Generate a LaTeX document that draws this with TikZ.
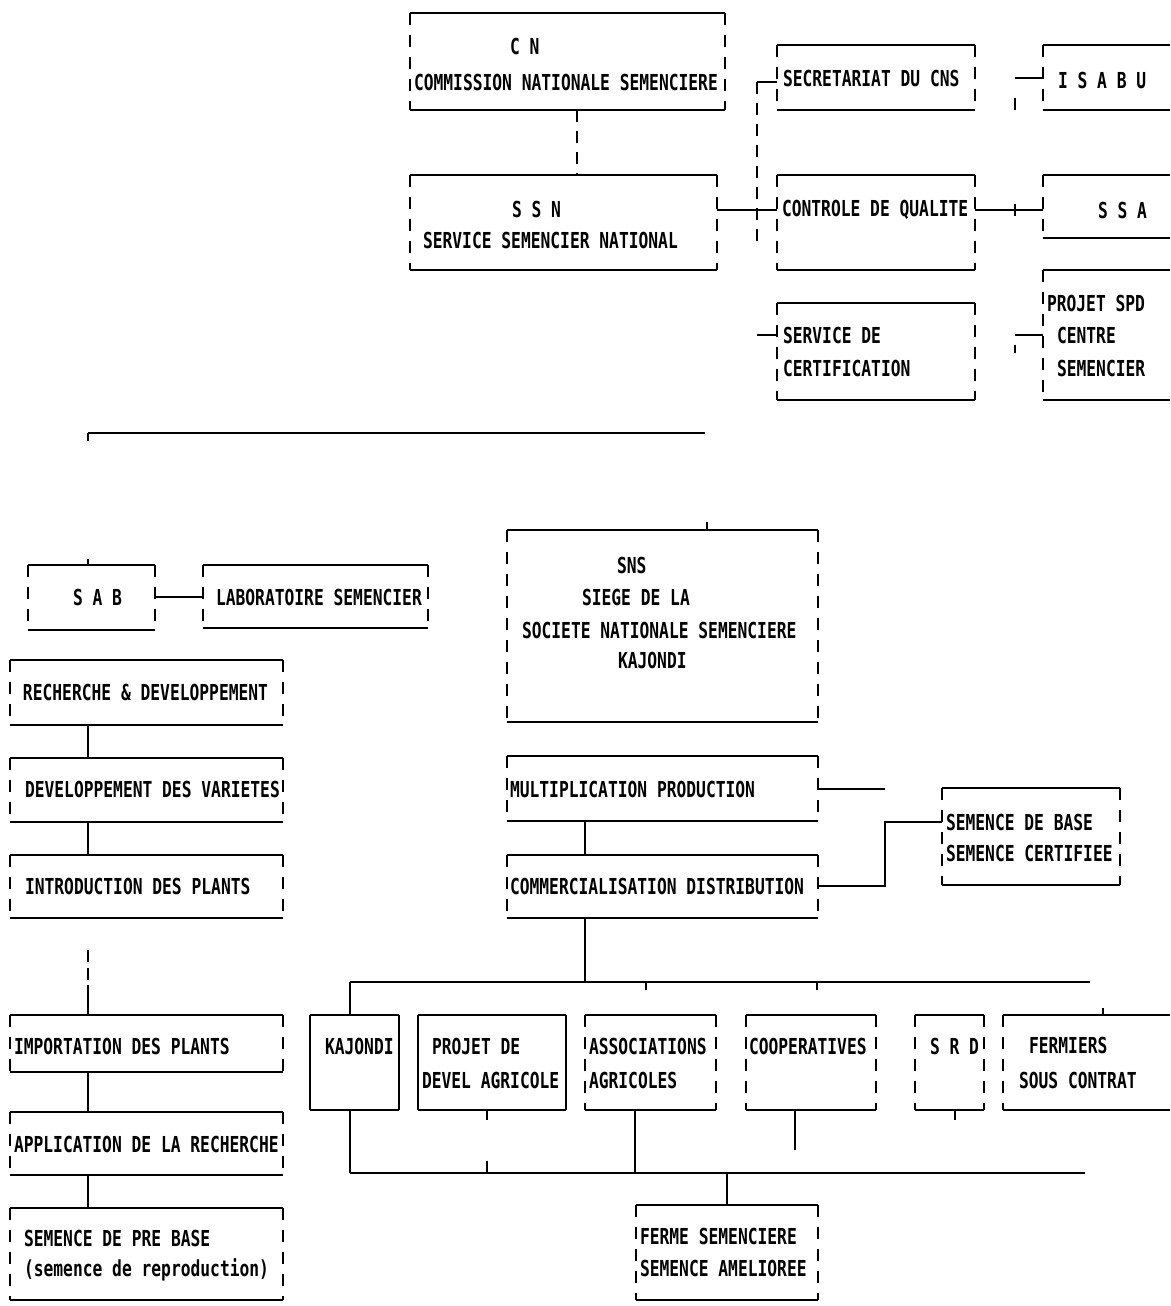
\documentclass[tikz,border=0pt]{standalone}
\usepackage{fontspec}
\newfontfamily\dm[FakeStretch=0.74]{DejaVu Sans Mono}
\tikzset{
  boxn/.style={rectangle,inner sep=0pt,outer sep=0pt,draw=none},
  hl/.style={line width=1.8pt,black},
  sl/.style={line width=1.2pt,black,dash pattern=on 12pt off 10pt},
  full/.style={line width=1.6pt,black},
  cl/.style={line width=1.4pt,black},
  dl/.style={line width=1.3pt,black,dash pattern=on 12pt off 9pt},
  txt/.style={anchor=west,inner sep=0pt,outer sep=0pt,font=\dm\bfseries\fontsize{22}{24}\selectfont}
}
\newcommand\bx[6][sl]{%
  \node[boxn,minimum width={#5-#3},minimum height={#6-#4}] (#2) at ({(#3+#5)/2},{(#4+#6)/2}) {};
  \draw[hl] (#2.north west) -- (#2.north east) (#2.south west) -- (#2.south east);
  \draw[#1] (#2.north west) -- (#2.south west) (#2.north east) -- (#2.south east);
}
\newcommand\bxo[5]{%
  \node[boxn,minimum width={#4-#2},minimum height={#5-#3}] (#1) at ({(#2+#4)/2},{(#3+#5)/2}) {};
  \draw[hl] (#1.north west) -- (#1.north east) (#1.south west) -- (#1.south east);
  \draw[sl] (#1.north west) -- (#1.south west);
}
\begin{document}
\begin{tikzpicture}[x=1pt,y=-1pt]
\fill[white] (0,0) rectangle (1170,1306);
\useasboundingbox (0,0) rectangle (1170,1306);

% ---------- top part ----------
\bx{cn}{410}{13}{725}{110}
\bx{ssn}{410}{175}{717}{270}
\bx{sec}{777}{45}{975}{110}
\bxo{isabu}{1043}{45}{1170}{110}
\bx{ctrl}{777}{175}{975}{270}
\bxo{ssa}{1043}{175}{1170}{238}
\bx{cert}{777}{303}{975}{400}
\bxo{spd}{1043}{270}{1170}{400}

\node[txt] (tcn1) at (510,46) {C N};
\node[txt] (tcn2) at (414,82) {COMMISSION NATIONALE SEMENCIERE};
\node[txt] (tssn1) at (512,209) {S S N};
\node[txt] (tssn2) at (423,240) {SERVICE SEMENCIER NATIONAL};
\node[txt] (tsec) at (783,78) {SECRETARIAT DU CNS};
\node[txt] (tisabu) at (1058,80) {I S A B U};
\node[txt] (tctrl) at (782,210) {CONTROLE DE QUALITE};
\node[txt] (tssa) at (1098,210) {S S A};
\node[txt] (tcert1) at (783,335) {SERVICE DE};
\node[txt] (tcert2) at (783,368) {CERTIFICATION};
\node[txt] (tspd1) at (1047,303) {PROJET SPD};
\node[txt] (tspd2) at (1057,335) {CENTRE};
\node[txt] (tspd3) at (1057,368) {SEMENCIER};

\coordinate (c577) at (577,0);
\draw[dl] (cn.south -| c577) -- (ssn.north -| c577);
\coordinate (v1) at (757,82);
\coordinate (v2) at (757,245);
\draw[dl] (v1) -- (v2);
\draw[cl] (v1) -- (sec.west |- v1);
\coordinate (h1) at (757,210);
\draw[cl] (ssn.east |- h1) -- (ctrl.west |- h1);
\coordinate (h2) at (757,335);
\draw[cl] (h2) -- (cert.west |- h2);
\coordinate (r0) at (1015,78);
\draw[cl] (r0) -- (isabu.west |- r0);
\draw[cl] (r0) ++(0,20) -- ++(0,12);
\coordinate (r1) at (1015,210);
\draw[cl] (ctrl.east |- r1) -- (ssa.west |- r1);
\draw[cl] (r1) ++(0,-6) -- ++(0,12);
\coordinate (r2) at (1015,335);
\draw[cl] (r2) -- (spd.west |- r2);
\draw[cl] (r2) ++(0,10) -- ++(0,8);

\coordinate (L1) at (88,433);
\coordinate (L2) at (705,433);
\draw[hl] (L1) -- (L2);
\draw[cl] (L1) -- ++(0,8);

% ---------- bottom left ----------
\bx{sab}{28}{565}{155}{630}
\bx{lab}{203}{565}{428}{628}
\bx{rd}{10}{660}{283}{725}
\bx{dev}{10}{758}{283}{822}
\bx{intro}{10}{855}{283}{918}
\bx{imp}{10}{1015}{283}{1072}
\bx{app}{10}{1112}{283}{1175}
\bx{pre}{10}{1208}{283}{1300}

\node[txt] (tsab) at (73,597) {S A B};
\node[txt] (tlab) at (216,597) {LABORATOIRE SEMENCIER};
\node[txt] (trd) at (23,692) {RECHERCHE \& DEVELOPPEMENT};
\node[txt] (tdev) at (25,789) {DEVELOPPEMENT DES VARIETES};
\node[txt] (tintro) at (25,886) {INTRODUCTION DES PLANTS};
\node[txt] (timp) at (14,1046) {IMPORTATION DES PLANTS};
\node[txt] (tapp) at (14,1144) {APPLICATION DE LA RECHERCHE};
\node[txt] (tpre1) at (24,1238) {SEMENCE DE PRE BASE};
\node[txt] (tpre2) at (24,1270) {(semence de reproduction)};

\coordinate (q1) at (0,597);
\draw[cl] (sab.east |- q1) -- (lab.west |- q1);
\coordinate (c88) at (88,0);
\draw[cl] (sab.north -| c88) -- ++(0,-6);
\draw[cl] (rd.south -| c88) -- (dev.north -| c88);
\draw[cl] (dev.south -| c88) -- (intro.north -| c88);
\draw[dl,dash pattern=on 0pt off 32pt on 12pt off 6pt on 12pt off 5pt on 30pt] (intro.south -| c88) -- (imp.north -| c88);
\draw[cl] (imp.south -| c88) -- (app.north -| c88);
\draw[cl] (app.south -| c88) -- (pre.north -| c88);

% ---------- bottom middle ----------
\bx{sns}{507}{530}{818}{722}
\bx{mult}{507}{756}{818}{821}
\bx{comm}{507}{855}{818}{918}
\bx{sem}{942}{788}{1120}{885}

\node[txt] (tsns1) at (617,565) {SNS};
\node[txt] (tsns2) at (582,597) {SIEGE DE LA};
\node[txt] (tsns3) at (522,630) {SOCIETE NATIONALE SEMENCIERE};
\node[txt] (tsns4) at (618,660) {KAJONDI};
\node[txt] (tmult) at (510,789) {MULTIPLICATION PRODUCTION};
\node[txt] (tcomm) at (510,886) {COMMERCIALISATION DISTRIBUTION};
\node[txt] (tsem1) at (946,822) {SEMENCE DE BASE};
\node[txt] (tsem2) at (946,853) {SEMENCE CERTIFIEE};

\coordinate (c707) at (707,0);
\draw[cl] (sns.north -| c707) -- ++(0,-8);
\coordinate (c585) at (585,0);
\draw[cl] (mult.south -| c585) -- (comm.north -| c585);
\coordinate (m1) at (885,789);
\draw[cl] (mult.east |- m1) -- (m1);
\coordinate (m2) at (885,886);
\coordinate (m3) at (885,822);
\draw[cl] (comm.east |- m2) -- (m2) -- (m3) -- (sem.west |- m3);

% ---------- children ----------
\bx[full]{kaj}{310}{1015}{399}{1110}
\bx[full]{pdev}{418}{1015}{566}{1110}
\bx{assoc}{585}{1015}{716}{1110}
\bx{coop}{746}{1015}{876}{1110}
\bx{srd}{915}{1015}{984}{1110}
\bxo{ferm}{1003}{1015}{1170}{1110}
\bx{ferme}{636}{1205}{818}{1300}

\node[txt] (tkaj) at (325,1046) {KAJONDI};
\node[txt] (tpdev1) at (432,1046) {PROJET DE};
\node[txt] (tpdev2) at (422,1080) {DEVEL AGRICOLE};
\node[txt] (tassoc1) at (589,1046) {ASSOCIATIONS};
\node[txt] (tassoc2) at (589,1080) {AGRICOLES};
\node[txt] (tcoop) at (749,1046) {COOPERATIVES};
\node[txt] (tsrd) at (930,1046) {S R D};
\node[txt] (tferm1) at (1029,1045) {FERMIERS};
\node[txt] (tferm2) at (1019,1080) {SOUS CONTRAT};
\node[txt] (tferme1) at (640,1236) {FERME SEMENCIERE};
\node[txt] (tferme2) at (640,1268) {SEMENCE AMELIOREE};

\coordinate (b1) at (585,982);
\coordinate (bus1a) at (350,982);
\coordinate (bus1b) at (1090,982);
\draw[cl] (comm.south -| b1) -- (b1);
\draw[hl] (bus1a) -- (bus1b);
\draw[cl] (bus1a) -- (kaj.north -| bus1a);
\draw[cl] (646,982) -- ++(0,8);
\draw[cl] (817,982) -- ++(0,8);
\coordinate (c1103) at (1103,0);
\draw[cl] (ferm.north -| c1103) -- ++(0,-7);

\coordinate (bus2a) at (350,1173);
\coordinate (bus2b) at (1085,1173);
\draw[cl] (kaj.south -| bus2a) -- (bus2a);
\draw[hl] (bus2a) -- (bus2b);
\coordinate (c487) at (487,1173);
\draw[cl] (pdev.south -| c487) -- ++(0,10);
\draw[cl] (c487) -- ++(0,-12);
\coordinate (c635) at (635,1173);
\draw[cl] (assoc.south -| c635) -- (c635);
\coordinate (c795) at (795,0);
\draw[cl] (coop.south -| c795) -- ++(0,40);
\coordinate (c955) at (955,0);
\draw[cl] (srd.south -| c955) -- ++(0,10);
\coordinate (b2) at (727,1173);
\draw[cl] (b2) -- (ferme.north -| b2);
\end{tikzpicture}
\end{document}
